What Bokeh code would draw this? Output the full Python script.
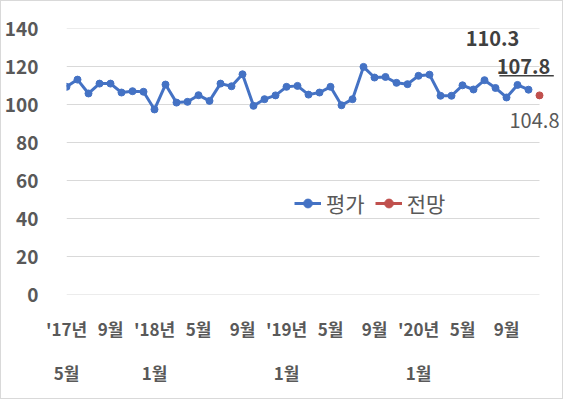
from bokeh.plotting import figure
from bokeh.models import (ColumnDataSource, FixedTicker, LinearAxis, Range1d,
                          Legend, LegendItem, Label)
from bokeh.embed import file_html
from bokeh.resources import INLINE

# ---- data ----
months = ["2017-05", "2017-06", "2017-07", "2017-08", "2017-09", "2017-10", "2017-11", "2017-12",
          "2018-01", "2018-02", "2018-03", "2018-04", "2018-05", "2018-06", "2018-07", "2018-08",
          "2018-09", "2018-10", "2018-11", "2018-12", "2019-01", "2019-02", "2019-03", "2019-04",
          "2019-05", "2019-06", "2019-07", "2019-08", "2019-09", "2019-10", "2019-11", "2019-12",
          "2020-01", "2020-02", "2020-03", "2020-04", "2020-05", "2020-06", "2020-07", "2020-08",
          "2020-09", "2020-10", "2020-11", "2020-12"]
evaluation = [109.3, 113.1, 105.8, 111.0, 111.0, 106.3, 107.0, 106.7, 97.4, 110.5,
              101.0, 101.4, 104.9, 101.9, 111.0, 109.6, 115.9, 99.3, 102.8, 104.8,
              109.3, 109.8, 105.2, 106.3, 109.3, 99.6, 102.8, 119.8, 114.2, 114.5,
              111.4, 110.7, 115.1, 115.7, 104.6, 104.6, 110.1, 107.9, 112.8, 108.7,
              103.7, 110.3, 107.8]
forecast_month = ["2020-12"]
forecast = [104.8]
tick_row1 = ["'17년", "9월", "'18년", "5월", "9월", "'19년", "5월", "9월", "'20년", "5월", "9월"]
tick_row2 = ["5월", " ", "1월", " ", " ", "1월", " ", " ", "1월", " ", " "]
y_ticks = [0, 20, 40, 60, 80, 100, 120, 140]

idx = {m: i for i, m in enumerate(months)}
ev_src = ColumnDataSource(dict(x=[idx[m] for m in months[:len(evaluation)]], y=evaluation))
fc_src = ColumnDataSource(dict(x=[idx[m] for m in forecast_month], y=forecast))

BLUE = "#4472C4"
RED = "#C0504D"
GREY = "#595959"
DARK = "#404040"
FONT = "Noto Sans CJK KR"

last = len(months) - 1
plot_w = 473            # width of the gridded area in px
extra_w = 23            # room on the right for the value labels
x_max = last * (plot_w + extra_w) / plot_w

p = figure(frame_width=plot_w + extra_w, frame_height=266, output_backend="svg",
           toolbar_location=None,
           x_range=Range1d(0, x_max), y_range=Range1d(0, 140),
           min_border_left=61, min_border_right=0, min_border_top=27, min_border_bottom=104,
           styles={"border": "1px solid #d9d9d9"})
p.outline_line_color = None
p.xaxis.visible = False
p.xgrid.visible = False
p.ygrid.visible = False

# horizontal gridlines limited to the category span
p.segment(x0=[0] * len(y_ticks), x1=[last] * len(y_ticks), y0=y_ticks, y1=y_ticks,
          line_color="#d9d9d9", line_width=1)

# y axis
ya = p.yaxis[0]
ya.ticker = FixedTicker(ticks=y_ticks)
ya.axis_line_color = None
ya.major_tick_line_color = None
ya.minor_tick_line_color = None
ya.major_label_text_font = FONT
ya.major_label_text_font_style = "bold"
ya.major_label_text_font_size = "19px"
ya.major_label_text_color = GREY
ya.major_label_standoff = 22

# x axes (two rows of labels)
tick_pos = list(range(0, last, 4))
for labels, standoff in ((tick_row1, 15), (tick_row2, 10)):
    ax = LinearAxis(ticker=FixedTicker(ticks=tick_pos),
                    major_label_overrides={t: l for t, l in zip(tick_pos, labels)})
    ax.axis_line_color = None
    ax.major_tick_line_color = None
    ax.minor_tick_line_color = None
    ax.major_label_text_font = FONT
    ax.major_label_text_font_style = "bold"
    ax.major_label_text_font_size = "17px"
    ax.major_label_text_color = GREY
    ax.major_label_standoff = standoff
    p.add_layout(ax, "below")

# series
l1 = p.line("x", "y", source=ev_src, line_color=BLUE, line_width=3)
s1 = p.scatter("x", "y", source=ev_src, size=7, color=BLUE)
s2 = p.scatter("x", "y", source=fc_src, size=7, color=RED)
l2 = p.line("x", "y", source=fc_src, line_color=RED, line_width=3)

legend = Legend(items=[LegendItem(label="평가", renderers=[l1, s1]),
                       LegendItem(label="전망", renderers=[l2, s2])],
                orientation="horizontal", location=(228, 76))
legend.background_fill_alpha = 0
legend.border_line_color = None
legend.padding = 0
legend.margin = 0
legend.spacing = 10
legend.glyph_width = 27
legend.glyph_height = 22
legend.label_standoff = 5
legend.label_text_font = FONT
legend.label_text_font_size = "21px"
legend.label_text_color = GREY
p.add_layout(legend)

# annotations
oct_i = len(evaluation) - 2
nov_i = len(evaluation) - 1
p.add_layout(Label(x=oct_i, y=evaluation[oct_i], text=f"{evaluation[oct_i]:.1f}",
                   x_offset=-25, y_offset=46, text_align="center", text_baseline="middle",
                   text_font=FONT, text_font_style="bold", text_font_size="20px",
                   text_color=DARK))
p.add_layout(Label(x=nov_i, y=evaluation[nov_i], text=f"{evaluation[nov_i]:.1f}",
                   x_offset=-5, y_offset=23, text_align="center", text_baseline="middle",
                   text_font=FONT, text_font_style="bold", text_font_size="20px",
                   text_color=DARK))
# underline for the latest value
p.segment(x0=[nov_i - 2.65], x1=[nov_i + 2.3], y0=[evaluation[nov_i] + 7.3],
          y1=[evaluation[nov_i] + 7.3], line_color=DARK, line_width=1.5)
fi = idx[forecast_month[0]]
p.add_layout(Label(x=fi, y=forecast[0], text=f"{forecast[0]:.1f}",
                   x_offset=-5, y_offset=-25, text_align="center", text_baseline="middle",
                   text_font=FONT, text_font_size="20px", text_color=GREY))

open("out.html", "w").write(file_html(p, INLINE))
